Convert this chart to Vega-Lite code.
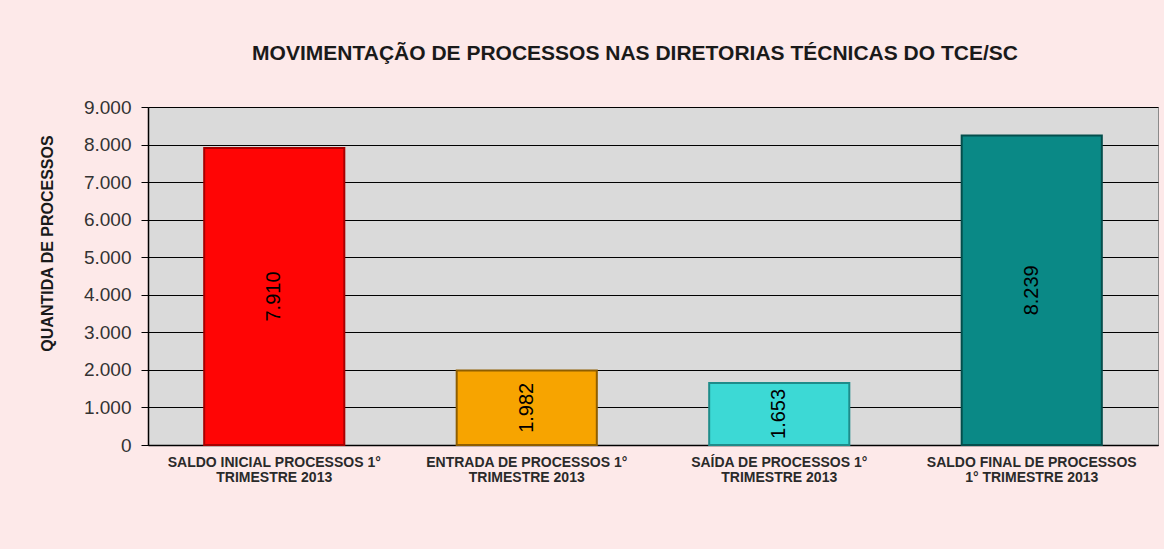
{
  "$schema": "https://vega.github.io/schema/vega-lite/v6.json",
  "autosize": {"type": "none"},
  "width": 1010,
  "height": 338,
  "padding": {"left": 148, "top": 107, "right": 6, "bottom": 104},
  "background": "#FDE9E9",
  "config": {
    "font": "Liberation Sans",
    "locale": {"number": {"decimal": ",", "thousands": ".", "grouping": [3], "currency": ["R$", ""]}},
    "view": {"fill": "#DADADA", "stroke": "#8A8A8A", "strokeWidth": 1}
  },
  "title": {
    "text": "MOVIMENTAÇÃO DE PROCESSOS NAS DIRETORIAS TÉCNICAS DO TCE/SC",
    "font": "Liberation Sans",
    "fontSize": 21,
    "fontWeight": "bold",
    "color": "#1a1a1a",
    "anchor": "middle",
    "dx": -18,
    "offset": 34
  },
  "data": {
    "values": [
      {"cat": "SALDO INICIAL PROCESSOS 1°|TRIMESTRE 2013", "v": 7910, "c": "a"},
      {"cat": "ENTRADA DE PROCESSOS  1°|TRIMESTRE 2013", "v": 1982, "c": "b"},
      {"cat": "SAÍDA DE PROCESSOS  1°|TRIMESTRE 2013", "v": 1653, "c": "c"},
      {"cat": "SALDO FINAL DE PROCESSOS|1°  TRIMESTRE 2013", "v": 8239, "c": "d"}
    ]
  },
  "transform": [{"calculate": "datum.v / 2", "as": "mid"}],
  "layer": [
    {
      "mark": {"type": "bar", "strokeWidth": 2},
      "encoding": {
        "x": {
          "field": "cat",
          "type": "nominal",
          "sort": null,
          "scale": {"paddingInner": 0.445, "paddingOuter": 0.2225},
          "axis": {
            "title": null,
            "labelAngle": 0,
            "labelExpr": "isValid(datum.value) ? split(datum.value, '|') : ''",
            "labelFont": "Liberation Sans",
            "labelFontSize": 14,
            "labelFontWeight": "bold",
            "labelColor": "#2a2a2a",
            "labelLineHeight": 15,
            "labelPadding": 10,
            "labelLimit": 0,
            "labelOverlap": false,
            "ticks": false,
            "domainColor": "#000000",
            "domainWidth": 1.5,
            "grid": false
          }
        },
        "y": {
          "field": "v",
          "type": "quantitative",
          "scale": {"domain": [0, 9000], "nice": false},
          "axis": {
            "title": "QUANTIDA DE PROCESSOS",
            "titleFont": "Liberation Sans",
            "titleFontSize": 16,
            "titleFontWeight": "bold",
            "titleColor": "#1a1a1a",
            "titleX": -101,
            "titleY": 136,
            "titleBaseline": "middle",
            "titleAlign": "center",
            "values": [0, 1000, 2000, 3000, 4000, 5000, 6000, 7000, 8000, 9000],
            "format": ",d",
            "labelFont": "Liberation Sans",
            "labelFontSize": 19,
            "labelColor": "#333333",
            "labelPadding": 10,
            "labelOverlap": false,
            "ticks": true,
            "tickColor": "#000000",
            "tickSize": 7,
            "domainColor": "#000000",
            "domainWidth": 1.5,
            "grid": true,
            "gridColor": "#000000",
            "gridWidth": 1.2,
            "gridOpacity": 1
          }
        },
        "fill": {
          "field": "c",
          "type": "nominal",
          "scale": {"domain": ["a", "b", "c", "d"], "range": ["#FF0505", "#F7A400", "#3CD9D5", "#0A8986"]},
          "legend": null
        },
        "stroke": {
          "field": "c",
          "type": "nominal",
          "scale": {"domain": ["a", "b", "c", "d"], "range": ["#A80000", "#8F5E00", "#1E8C8A", "#044E4C"]},
          "legend": null
        }
      }
    },
    {
      "mark": {"type": "text", "angle": 270, "fontSize": 20, "font": "Liberation Sans", "color": "#000000", "baseline": "middle", "align": "center"},
      "encoding": {
        "x": {"field": "cat", "type": "nominal", "sort": null, "axis": null},
        "y": {"field": "mid", "type": "quantitative", "axis": null},
        "text": {"field": "v", "type": "quantitative", "format": ",d"}
      }
    }
  ],
  "resolve": {"axis": {"y": "independent", "x": "independent"}}
}
